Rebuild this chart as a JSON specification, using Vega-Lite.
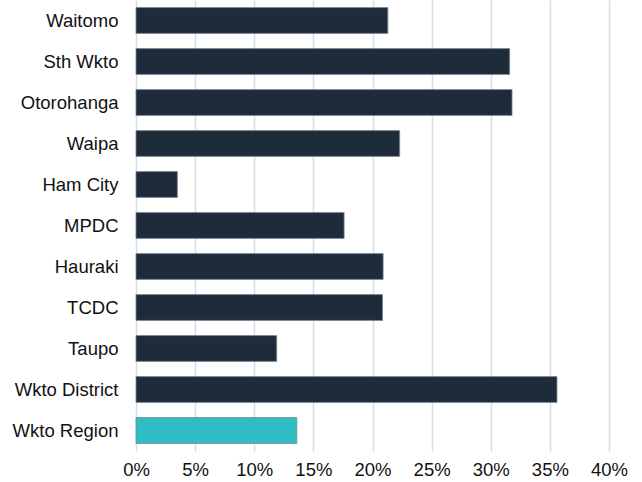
{
  "$schema": "https://vega.github.io/schema/vega-lite/v6.json",
  "autosize": {"type": "none"},
  "padding": {"left": 136, "top": 0, "right": 33, "bottom": 31},
  "width": 473,
  "height": 451,
  "background": "white",
  "config": {
    "view": {"stroke": null},
    "font": "Liberation Sans"
  },
  "data": {
    "values": [
      {"area": "Waitomo", "value": 0.213, "type": "district"},
      {"area": "Sth Wkto", "value": 0.316, "type": "district"},
      {"area": "Otorohanga", "value": 0.318, "type": "district"},
      {"area": "Waipa", "value": 0.223, "type": "district"},
      {"area": "Ham City", "value": 0.035, "type": "district"},
      {"area": "MPDC", "value": 0.176, "type": "district"},
      {"area": "Hauraki", "value": 0.209, "type": "district"},
      {"area": "TCDC", "value": 0.2085, "type": "district"},
      {"area": "Taupo", "value": 0.119, "type": "district"},
      {"area": "Wkto District", "value": 0.356, "type": "district"},
      {"area": "Wkto Region", "value": 0.136, "type": "region"}
    ]
  },
  "mark": {"type": "bar", "stroke": "#7d8894", "strokeWidth": 0.8},
  "encoding": {
    "y": {
      "field": "area",
      "type": "nominal",
      "sort": null,
      "scale": {"paddingInner": 0.37, "paddingOuter": 0.185},
      "axis": {
        "title": null,
        "domain": false,
        "ticks": false,
        "labelPadding": 18,
        "labelFontSize": 18.5,
        "labelColor": "#111111",
        "labelFont": "Liberation Sans"
      }
    },
    "x": {
      "field": "value",
      "type": "quantitative",
      "scale": {"domain": [0, 0.4], "nice": false},
      "axis": {
        "title": null,
        "format": ".0%",
        "values": [0, 0.05, 0.1, 0.15, 0.2, 0.25, 0.3, 0.35, 0.4],
        "domain": false,
        "ticks": false,
        "grid": true,
        "gridColor": "#d3dfea",
        "gridWidth": 1.5,
        "labelPadding": 9,
        "labelFontSize": 18.5,
        "labelColor": "#111111",
        "labelFont": "Liberation Sans",
        "labelFlush": false
      }
    },
    "color": {
      "field": "type",
      "type": "nominal",
      "scale": {"domain": ["district", "region"], "range": ["#1e2b3a", "#2dbdc2"]},
      "legend": null
    }
  }
}
